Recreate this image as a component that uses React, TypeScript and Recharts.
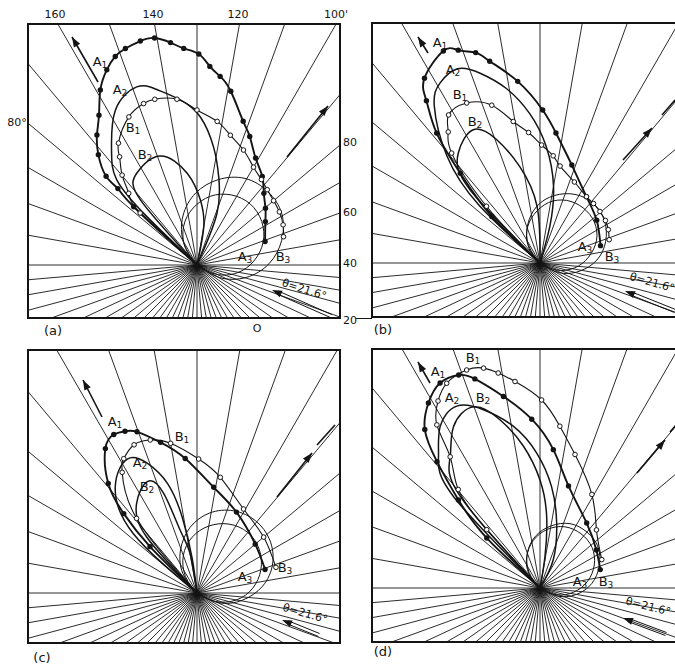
import React from "react";
import {
  ScatterChart,
  Scatter,
  XAxis,
  YAxis,
  ReferenceLine,
  ReferenceArea,
  ReferenceDot,
} from "recharts";

type P = [number, number]; // [angle in degrees, radius]

const upperSpokes = [0, 10, 20, 30, 40, 50, 60, 70, 80, 90, 100, 110, 120, 130, 140, 150, 160, 170, 180];
const lowerSpokes = [
  -5, -10, -15, -20, -25, -30, -35, -40, -45, -50, -55, -60, -65, -70, -75, -80, -85, -90,
  -95, -100, -105, -110, -115, -120, -125, -130, -135, -140, -145, -150, -155, -160, -165, -170, -175,
];

const topTicks = ["160", "140", "120", "100'"];
const rightTicks = ["80", "60", "40", "20"];
const thetaLabel = "θ=21.6°";

// panel (a)
const aA1: P[] = [[138, 0], [137.4, 86], [136, 110], [135.7, 127], [131.8, 148], [127.6, 164], [123.2, 179], [118.9, 200], [114.8, 215], [111.4, 224], [108.3, 228], [104.2, 231], [100.6, 231], [96.8, 224], [93.5, 217], [89.5, 211], [86.3, 199], [83, 190], [79, 177], [72.2, 151], [67.7, 139], [61.3, 122], [53.6, 110], [47, 98], [39.7, 89], [32.4, 81], [19, 72]];
const aA2: P[] = [[139, 0], [136, 70], [133.3, 117], [126.7, 143], [117.8, 175], [108.7, 188], [102.9, 180], [95.8, 166], [88.7, 148], [82, 119], [76.2, 91], [68.8, 55], [58, 0]];
const aB1: P[] = [[138, 0], [137.6, 77], [133.6, 99], [129.8, 117], [125.6, 133], [122.8, 145], [114.7, 163], [108.3, 170], [104.3, 171], [96.9, 167], [90, 155], [82, 145], [75.6, 134], [68, 124], [60, 113], [53, 107], [47, 103], [40, 100], [32.8, 98], [25, 95], [18.1, 91]];
const aB2: P[] = [[137, 0], [131, 86], [123, 110], [108.6, 115], [96, 92], [87, 65], [80, 39], [72, 0]];
const aA3: P[] = [[-41, 0], [-26, 21], [-11, 41], [4, 57], [19, 70], [34, 78], [49, 81], [64, 78], [79, 70], [94, 57], [109, 41], [124, 21], [139, 0]];
const aB3: P[] = [[-44, 0], [-29, 26], [-14, 51], [1, 72], [16, 88], [31, 99], [46, 102], [61, 99], [76, 88], [91, 72], [106, 51], [121, 26], [136, 0]];

// panel (b)
const bA1: P[] = [[138, 0], [136, 67], [131.6, 120], [128.5, 166], [125, 198], [122, 218], [114.5, 233], [111, 228], [107, 220], [104, 208], [97, 183], [89, 153], [83, 131], [72, 103], [55, 81], [37, 71], [16, 63]];
const bA2: P[] = [[139, 0], [136.6, 83], [131, 142], [124, 189], [119, 206], [113, 211], [107.5, 199], [101, 178], [94, 150], [87, 117], [80, 78], [75, 38], [66, 0]];
const bB1: P[] = [[138, 0], [133.3, 78], [128.8, 141], [125, 160], [121.7, 174], [114.6, 176], [107, 165], [100.7, 144], [95, 131], [89.2, 118], [83, 108], [78.3, 99], [67, 88], [55, 81], [48, 80], [40.7, 79], [33, 78], [26, 76], [18.6, 73]];
const bB2: P[] = [[137, 0], [133.7, 101], [126.6, 137], [116.6, 149], [109.4, 131], [102, 99], [93, 57], [86, 0]];
const bA3: P[] = [[-38, 0], [-23, 18], [-8, 35], [7, 49], [22, 61], [37, 68], [52, 70], [67, 68], [82, 61], [97, 49], [112, 35], [127, 18], [142, 0]];
const bB3: P[] = [[-42, 0], [-27, 21], [-12, 40], [3, 57], [18, 69], [33, 77], [48, 80], [63, 77], [78, 69], [93, 57], [108, 40], [123, 21], [138, 0]];

// panel (c)
const cA1: P[] = [[137, 0], [135.4, 66], [132.7, 108], [129, 141], [122.4, 171], [117.7, 179], [114, 177], [110.4, 172], [103.6, 155], [95, 135], [81, 107], [64, 90], [40, 76], [19, 72]];
const cA2: P[] = [[139, 0], [137, 87], [127.6, 134], [117.5, 151], [111, 139], [105, 113], [101, 77], [98, 36], [94, 0]];
const cB1: P[] = [[138, 0], [129, 96], [121.8, 142], [118.6, 153], [113, 161], [107, 160], [100, 152], [89.3, 134], [78.6, 118], [61, 96], [40, 87], [18, 83]];
const cB2: P[] = [[137, 0], [132, 75], [124, 108], [114, 122], [108.5, 105], [105, 65], [100, 40], [96, 0]];
const cA3: P[] = [[-40, 0], [-25, 20], [-10, 40], [5, 56], [20, 68], [35, 76], [50, 79], [65, 76], [80, 68], [95, 56], [110, 40], [125, 20], [140, 0]];
const cB3: P[] = [[-39, 0], [-24, 24], [-9, 46], [6, 66], [21, 81], [36, 90], [51, 93], [66, 90], [81, 81], [96, 66], [111, 46], [126, 24], [141, 0]];

// panel (d)
const dA1: P[] = [[138, 0], [136.8, 73], [132.8, 120], [129.2, 163], [126, 196], [121.1, 216], [116, 228], [110.9, 228], [107.3, 219], [100.8, 195], [92.8, 169], [84.5, 139], [74.4, 106], [54.3, 80], [34, 68], [17, 63]];
const dA2: P[] = [[140, 0], [133.4, 126], [127.7, 166], [121.7, 190], [114.6, 200], [107.6, 187], [99.4, 164], [91.4, 135], [83.5, 102], [75.6, 67], [64.8, 31], [55, 0]];
const dB1: P[] = [[136, 0], [132.4, 79], [129.7, 128], [124.4, 159], [122.3, 193], [118.6, 213], [114.5, 225], [108.6, 230], [104.4, 227], [101, 219], [96.9, 208], [89.5, 188], [83, 163], [75.3, 138], [61, 107], [45.8, 81], [24.7, 68]];
const dB2: P[] = [[137, 0], [131, 122], [124.4, 159], [118.2, 183], [110.2, 193], [103.4, 173], [96.7, 143], [90, 108], [84.7, 72], [81, 32], [78, 0]];
const dA3: P[] = [[-37, 0], [-22, 18], [-7, 34], [8, 48], [23, 59], [38, 66], [53, 68], [68, 66], [83, 59], [98, 48], [113, 34], [128, 18], [143, 0]];
const dB3: P[] = [[-40, 0], [-25, 19], [-10, 37], [5, 52], [20, 63], [35, 71], [50, 73], [65, 71], [80, 63], [95, 52], [110, 37], [125, 19], [140, 0]];

const curveNames = ["A1", "A2", "B1", "B2", "A3", "B3"];

const panels = [
  {
    id: "a", left: 28, top: 24, right: 340, bottom: 318, cx: 197, cy: 265,
    curves: { A1: aA1, A2: aA2, B1: aB1, B2: aB2, A3: aA3, B3: aB3 },
    labels: { A1: [-97, 203], A2: [-77, 175], B1: [-64, 137], B2: [-52, 110], A3: [48, 8], B3: [86, 8] },
    upArrow: [[-99, 183], [-125, 228]],
    sideArrow: [[90, 108], [131, 159]],
    sideDash: [] as number[][][],
    theta: { tail: [134, -51], tip: [75, -25], text: [107, -25] },
  },
  {
    id: "b", left: 372, top: 23, right: 679, bottom: 317, cx: 540, cy: 263,
    curves: { A1: bA1, A2: bA2, B1: bB1, B2: bB2, A3: bA3, B3: bB3 },
    labels: { A1: [-100, 220], A2: [-87, 193], B1: [-80, 168], B2: [-65, 141], A3: [45, 16], B3: [72, 6] },
    upArrow: [[-112, 210], [-122, 226]],
    sideArrow: [[83, 103], [112, 135]],
    sideDash: [[[122, 148], [135, 163]]],
    theta: { tail: [135, -48], tip: [85, -28], text: [112, -20] },
  },
  {
    id: "c", left: 28, top: 350, right: 340, bottom: 643, cx: 197, cy: 593,
    curves: { A1: cA1, A2: cA2, B1: cB1, B2: cB2, A3: cA3, B3: cB3 },
    labels: { A1: [-82, 171], A2: [-57, 130], B1: [-15, 156], B2: [-50, 106], A3: [48, 16], B3: [88, 25] },
    upArrow: [[-95, 176], [-114, 213]],
    sideArrow: [[80, 96], [115, 140]],
    sideDash: [[[120, 148], [138, 168]]],
    theta: { tail: [122, -42], tip: [85, -27], text: [108, -21] },
  },
  {
    id: "d", left: 372, top: 349, right: 679, bottom: 642, cx: 540, cy: 588,
    curves: { A1: dA1, A2: dA2, B1: dB1, B2: dB2, A3: dA3, B3: dB3 },
    labels: { A1: [-102, 216], A2: [-88, 190], B1: [-67, 230], B2: [-57, 190], A3: [40, 6], B3: [66, 6] },
    upArrow: [[-110, 205], [-122, 226]],
    sideArrow: [[97, 115], [125, 148]],
    sideDash: [[[130, 156], [137, 164]]],
    theta: { tail: [126, -46], tip: [83, -30], text: [108, -19] },
  },
];

const curveStyle: Record<string, { width: number; dot: string }> = {
  A1: { width: 1.9, dot: "filled" },
  A2: { width: 1.5, dot: "none" },
  B1: { width: 1.1, dot: "open" },
  B2: { width: 1.5, dot: "none" },
  A3: { width: 1, dot: "none" },
  B3: { width: 1, dot: "none" },
};
const drawOrder = ["A3", "B3", "B2", "A2", "A1", "B1"];
const INK = "#141414";

function toXY(pts: P[]) {
  return pts.map(([a, r]) => ({
    x: r * Math.cos((a * Math.PI) / 180),
    y: r * Math.sin((a * Math.PI) / 180),
    r,
  }));
}

function rayEnd(a: number, xmin: number, xmax: number, ymin: number, ymax: number) {
  const dx = Math.cos((a * Math.PI) / 180);
  const dy = Math.sin((a * Math.PI) / 180);
  const cands: number[] = [];
  if (dx > 1e-9) cands.push(xmax / dx);
  if (dx < -1e-9) cands.push(xmin / dx);
  if (dy > 1e-9) cands.push(ymax / dy);
  if (dy < -1e-9) cands.push(ymin / dy);
  const t = Math.min(...cands);
  return { x: dx * t, y: dy * t };
}

const FilledDot = (p: any) =>
  p.payload && p.payload.r > 0 ? <circle cx={p.cx} cy={p.cy} r={2.7} fill={INK} /> : <g />;
const OpenDot = (p: any) =>
  p.payload && p.payload.r > 0 ? (
    <circle cx={p.cx} cy={p.cy} r={2.3} fill="#fff" stroke={INK} strokeWidth={1} />
  ) : (
    <g />
  );
const NoDot = () => <g />;
const Head = (p: any) => (
  <polygon
    points="0,0 -10,-3.6 -10,3.6"
    transform={`translate(${p.cx},${p.cy}) rotate(${p.payload.rot})`}
    fill={INK}
  />
);

function subLabel(name: string) {
  return (p: any) => (
    <text x={p.cx} y={p.cy} fontSize={13} fontFamily="DejaVu Sans" fill={INK} textAnchor="middle" dominantBaseline="middle">
      {name[0]}
      <tspan fontSize={9} dy={3}>{name[1]}</tspan>
    </text>
  );
}

function Panel({ cfg }: { cfg: (typeof panels)[number] }) {
  const w = cfg.right - cfg.left;
  const h = cfg.bottom - cfg.top;
  const xmin = cfg.left - cfg.cx;
  const xmax = cfg.right - cfg.cx;
  const ymin = cfg.cy - cfg.bottom;
  const ymax = cfg.cy - cfg.top;
  const spokes = [...upperSpokes, ...lowerSpokes].map((a) => rayEnd(a, xmin, xmax, ymin, ymax));

  const [tt, th] = [cfg.theta.tail, cfg.theta.tip];
  const len = Math.hypot(th[0] - tt[0], th[1] - tt[1]);
  const nx = -(th[1] - tt[1]) / len;
  const ny = (th[0] - tt[0]) / len;
  const rot = (a: number[], b: number[]) => (Math.atan2(-(b[1] - a[1]), b[0] - a[0]) * 180) / Math.PI;
  const heads = [
    { x: cfg.upArrow[1][0], y: cfg.upArrow[1][1], rot: rot(cfg.upArrow[0], cfg.upArrow[1]) },
    { x: cfg.sideArrow[1][0], y: cfg.sideArrow[1][1], rot: rot(cfg.sideArrow[0], cfg.sideArrow[1]) },
    { x: th[0], y: th[1], rot: rot(tt, th) },
  ];
  const thetaRot = rot(th, tt) - 6;

  return (
    <div style={{ position: "absolute", left: cfg.left - 2, top: cfg.top - 2 }}>
      <ScatterChart width={w + 4} height={h + 4} margin={{ top: 2, right: 2, bottom: 2, left: 2 }}>
        <XAxis type="number" dataKey="x" domain={[xmin, xmax]} hide allowDataOverflow />
        <YAxis type="number" dataKey="y" domain={[ymin, ymax]} hide allowDataOverflow />
        {spokes.map((e, i) => (
          <ReferenceLine
            key={`s${i}`}
            segment={[{ x: 0, y: 0 }, { x: e.x, y: e.y }]}
            stroke={INK}
            strokeWidth={0.9}
            ifOverflow="visible"
          />
        ))}
        {drawOrder.map((name) => {
          const st = curveStyle[name];
          const pts = (cfg.curves as any)[name] as P[];
          return (
            <Scatter
              key={name}
              name={name}
              data={toXY(pts)}
              line={{ stroke: INK, strokeWidth: st.width }}
              lineJointType="natural"
              shape={st.dot === "filled" ? FilledDot : st.dot === "open" ? OpenDot : NoDot}
              isAnimationActive={false}
            />
          );
        })}
        <ReferenceLine
          segment={[{ x: cfg.upArrow[0][0], y: cfg.upArrow[0][1] }, { x: cfg.upArrow[1][0], y: cfg.upArrow[1][1] }]}
          stroke={INK}
          strokeWidth={1.6}
          ifOverflow="visible"
        />
        <ReferenceLine
          segment={[{ x: cfg.sideArrow[0][0], y: cfg.sideArrow[0][1] }, { x: cfg.sideArrow[1][0], y: cfg.sideArrow[1][1] }]}
          stroke={INK}
          strokeWidth={1.6}
          ifOverflow="visible"
        />
        {cfg.sideDash.map((s, i) => (
          <ReferenceLine
            key={`d${i}`}
            segment={[{ x: s[0][0], y: s[0][1] }, { x: s[1][0], y: s[1][1] }]}
            stroke={INK}
            strokeWidth={1.6}
            ifOverflow="visible"
          />
        ))}
        {[-1.6, 1.6].map((o) => (
          <ReferenceLine
            key={`t${o}`}
            segment={[
              { x: tt[0] + nx * o, y: tt[1] + ny * o },
              { x: th[0] + (6 * (tt[0] - th[0])) / len + nx * o, y: th[1] + (6 * (tt[1] - th[1])) / len + ny * o },
            ]}
            stroke={INK}
            strokeWidth={1}
            ifOverflow="visible"
          />
        ))}
        <Scatter data={heads} shape={Head} isAnimationActive={false} />
        <ReferenceArea x1={xmin} x2={xmax} y1={ymin} y2={ymax} fill="none" stroke={INK} strokeWidth={2} ifOverflow="visible" />
        {curveNames.map((n) => {
          const pos = (cfg.labels as any)[n] as number[];
          return <ReferenceDot key={`l${n}`} x={pos[0]} y={pos[1]} r={0} shape={subLabel(n)} ifOverflow="visible" />;
        })}
        <ReferenceDot
          x={cfg.theta.text[0]}
          y={cfg.theta.text[1]}
          r={0}
          ifOverflow="visible"
          shape={(p: any) => (
            <text
              x={p.cx}
              y={p.cy}
              fontSize={11}
              fontFamily="DejaVu Sans"
              fill={INK}
              textAnchor="middle"
              dominantBaseline="middle"
              transform={`rotate(${thetaRot} ${p.cx} ${p.cy})`}
            >
              {thetaLabel}
            </text>
          )}
        />
      </ScatterChart>
    </div>
  );
}

const txt = (s: string, x: number, y: number, size = 12) => (
  <div
    key={`${s}${x}${y}`}
    style={{
      position: "absolute",
      left: x,
      top: y,
      transform: "translate(-50%, -50%)",
      fontSize: size,
      fontFamily: "DejaVu Sans",
      color: INK,
      whiteSpace: "nowrap",
      lineHeight: 1,
    }}
  >
    {s}
  </div>
);

export default function App() {
  const topX = [55, 153, 238, 336];
  const rightY = [142, 212, 263, 320];
  return (
    <div
      style={{
        position: "absolute",
        left: 0,
        top: 0,
        width: 675,
        height: 667,
        overflow: "hidden",
        background: "#fff",
      }}
    >
      {panels.map((p) => (
        <Panel key={p.id} cfg={p} />
      ))}
      {topTicks.map((t, i) => txt(t, topX[i], 14, 11))}
      {rightTicks.map((t, i) => txt(t, 350, rightY[i], 11))}
      {txt("80°", 17, 122, 11)}
      {txt("O", 257, 328, 11)}
      <div style={{ position: "absolute", left: 356, top: 318, width: 16, height: 1, background: INK }} />
      {txt("(a)", 53, 330, 13)}
      {txt("(b)", 383, 329, 13)}
      {txt("(c)", 42, 657, 13)}
      {txt("(d)", 383, 651, 13)}
    </div>
  );
}
